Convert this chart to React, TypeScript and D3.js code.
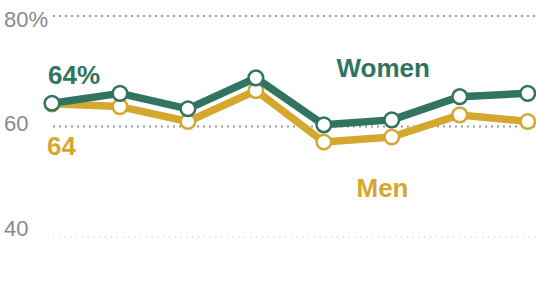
import React, { useEffect } from "react";
import * as d3 from "d3";

const periods = ["P1", "P2", "P3", "P4", "P5", "P6", "P7", "P8"];
const women = [64.2, 66.0, 63.2, 68.8, 60.3, 61.2, 65.4, 66.0];
const men = [64.1, 63.6, 60.9, 66.5, 57.2, 58.1, 62.1, 60.9];
const yTicks = [80, 60, 40];
const tickLabels = ["80%", "60", "40"];

const W = 536;
const H = 302;
const GREEN = "#317462";
const GOLD = "#d4a82f";

export default function App() {
  useEffect(() => {
    document.body.style.margin = "0";
  }, []);

  const x = d3.scalePoint<string>().domain(periods).range([52, 527.7]);
  const y = d3.scaleLinear().domain([40, 80]).range([237, 16]);
  const labelY = d3.scaleLinear().domain([40, 80]).range([235.7, 26.7]);

  const line = d3
    .line<number>()
    .x((_, i) => x(periods[i]) as number)
    .y((d) => y(d));

  const series = [
    { name: "Men", values: men, color: GOLD },
    { name: "Women", values: women, color: GREEN },
  ];

  const boldFont = "'Liberation Sans', Arial, Helvetica, sans-serif";

  return (
    <svg
      width={W}
      height={H}
      style={{ position: "absolute", left: 0, top: 0, display: "block" }}
    >
      {yTicks.map((t, i) => (
        <g key={t}>
          <line
            x1={53}
            x2={W}
            y1={y(t)}
            y2={y(t)}
            stroke={t === 40 ? "#b5b5b5" : "#9a9a9a"}
            strokeWidth={t === 40 ? 1 : 2}
            strokeDasharray={t === 40 ? "1 4.8" : "2 4"}
          />
          <text
            x={4}
            y={labelY(t)}
            fontFamily="'Liberation Sans', Arial, sans-serif"
            fontWeight="normal"
            fontSize={22}
            fill="#8a8a8a"
          >
            {tickLabels[i]}
          </text>
        </g>
      ))}

      {series.map((s) => (
        <g key={s.name}>
          <path
            d={line(s.values) || ""}
            fill="none"
            stroke={s.color}
            strokeWidth={7.5}
            strokeLinejoin="round"
          />
          {s.values.map((v, i) => (
            <circle
              key={i}
              cx={x(periods[i]) as number}
              cy={y(v)}
              r={7.3}
              fill="#fff"
              stroke={s.color}
              strokeWidth={2.5}
            />
          ))}
        </g>
      ))}

      <text
        x={(x(periods[0]) as number) - 4}
        y={84}
        fontFamily={boldFont}
        fontWeight="bold"
        fontSize={26}
        fill={GREEN}
      >
        {Math.round(women[0])}%
      </text>
      <text
        x={(x(periods[0]) as number) - 5}
        y={155}
        fontFamily={boldFont}
        fontWeight="bold"
        fontSize={26}
        fill={GOLD}
      >
        {Math.round(men[0])}
      </text>
      <text
        x={336.5}
        y={76.5}
        fontFamily={boldFont}
        fontWeight="bold"
        fontSize={26}
        fill={GREEN}
      >
        Women
      </text>
      <text
        x={356.5}
        y={196.5}
        fontFamily={boldFont}
        fontWeight="bold"
        fontSize={26}
        fill={GOLD}
      >
        Men
      </text>
    </svg>
  );
}
